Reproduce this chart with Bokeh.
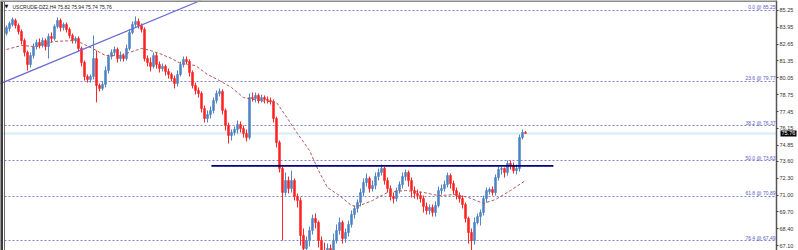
from bokeh.plotting import figure
from bokeh.models import Range1d, FixedTicker, Span, Label, Slope, ColumnDataSource, LinearAxis
from bokeh.embed import file_html
from bokeh.resources import INLINE
from bokeh.core.properties import value

symbol = "USCRUDE-DZ2,H4"

opens = [83.47,83.86,84.17,84.48,84.09,83.63,82.93,82.01,81.08,81.77,
         82.47,82.78,82.55,82.93,82.47,83.24,83.09,84.01,84.48,83.94,
         84.17,83.78,83.32,82.93,83.09,82.32,81.23,80.15,79.92,80.15,
         81.54,79.46,79.23,79.54,80.62,81.70,82.01,82.24,81.54,81.77,
         81.54,82.32,83.55,84.17,84.40,84.09,83.78,81.54,81.23,80.93,
         81.77,81.08,80.77,80.93,80.54,80.31,80.00,79.61,80.31,81.08,
         81.47,81.31,80.46,79.46,79.07,78.84,77.68,76.91,77.22,77.53,
         78.30,78.84,79.00,77.53,76.37,75.60,75.83,76.06,76.45,76.14,
         75.75,75.44,78.53,78.45,78.69,78.30,78.53,78.38,78.30,78.22,
         76.91,75.06,73.05,71.20,72.12,71.50,72.12,70.89,70.58,67.88,
         66.87,67.49,68.26,69.19,68.88,67.49,66.72,66.33,66.87,66.56,
         67.49,68.26,68.88,67.64,68.11,68.73,69.50,69.96,70.42,71.20,
         71.97,72.28,71.50,71.74,72.43,72.74,73.05,72.12,71.50,70.89,
         70.73,71.35,71.81,72.43,72.74,72.12,71.35,71.12,70.96,70.73,
         70.12,69.81,70.04,69.65,70.19,71.35,71.50,71.81,72.51,71.89,
         71.35,70.96,70.73,70.27,69.19,68.11,67.49,68.88,69.34,69.65,
         70.73,71.27,71.43,71.20,72.35,72.97,73.05,72.74,73.44,73.28,
         72.89,73.05,75.44,75.82]
highs = [84.09,84.40,84.71,84.63,84.25,83.78,83.09,82.16,82.01,82.70,
         83.01,83.09,83.16,83.09,83.47,83.55,84.17,84.71,84.63,84.32,
         84.32,83.94,83.47,83.24,83.24,82.47,81.39,80.31,80.31,83.32,
         82.16,79.61,79.77,80.93,81.85,82.24,82.47,82.39,82.08,81.93,
         82.62,83.78,84.40,84.79,84.63,84.25,83.94,81.77,81.62,82.01,
         82.01,81.31,81.16,81.08,80.77,80.46,80.23,80.62,81.31,81.70,
         81.70,81.47,80.62,79.69,79.30,79.00,77.91,77.53,77.84,78.53,
         79.07,79.23,79.15,77.68,76.60,76.06,76.29,76.76,76.68,76.37,
         76.06,78.84,78.92,78.92,78.84,78.76,78.69,78.61,78.53,78.38,
         77.06,75.21,73.20,72.74,72.43,72.89,72.28,71.12,70.81,68.42,
         67.80,68.57,69.50,69.58,69.03,67.80,67.33,67.26,67.18,68.03,
         68.73,69.27,69.03,68.42,69.03,69.81,70.19,70.66,71.50,72.28,
         72.66,72.43,72.12,72.74,73.05,73.36,73.20,72.35,71.74,71.20,
         71.58,72.05,72.74,72.97,72.89,72.35,71.66,71.43,71.27,70.96,
         70.42,70.27,70.27,70.50,71.66,71.81,72.12,72.74,72.66,72.12,
         71.58,71.20,70.96,70.42,69.34,68.42,69.27,69.58,69.88,70.96,
         71.58,71.58,71.66,72.59,73.20,73.20,73.13,73.67,73.67,73.51,
         73.36,75.67,76.06,75.94]
lows = [83.32,83.63,84.01,83.86,83.40,82.62,81.70,80.62,80.85,81.54,
        82.24,82.32,82.39,82.16,81.54,82.78,82.93,83.86,83.63,83.71,
        83.55,83.09,82.70,82.70,82.08,80.93,79.84,79.69,79.69,79.92,
        78.15,79.00,79.07,79.30,80.39,81.47,81.77,81.23,81.31,81.31,
        81.39,82.16,83.40,83.94,83.86,83.55,81.31,80.93,80.54,80.77,
        80.77,80.46,80.54,80.23,80.00,79.77,79.23,79.38,80.15,80.85,
        81.08,80.15,79.23,78.76,78.53,77.37,76.60,76.60,76.91,77.30,
        78.07,78.61,77.22,75.98,74.98,75.21,75.60,75.75,75.83,75.44,
        75.13,75.29,78.22,78.15,78.07,78.15,78.07,78.07,77.99,76.60,
        74.67,72.74,67.49,70.96,71.12,71.20,70.58,70.04,67.10,66.33,
        66.33,67.03,67.95,68.42,66.95,66.10,65.79,65.79,65.94,66.25,
        67.26,67.95,67.26,67.33,67.80,68.49,69.19,69.65,70.12,70.89,
        71.66,71.20,71.27,71.43,72.12,72.51,71.81,71.20,70.58,70.35,
        70.50,71.12,71.50,72.12,71.66,70.81,70.73,70.66,70.42,69.65,
        69.50,69.50,69.34,69.34,70.04,71.04,71.27,71.58,71.50,71.04,
        70.66,70.42,69.96,68.88,67.26,66.72,67.18,68.73,68.65,69.42,
        70.42,71.04,70.96,70.96,72.12,72.59,72.35,72.51,72.97,72.66,
        72.59,72.82,75.29,75.74]
closes = [83.94,84.25,84.55,84.09,83.63,82.93,82.01,81.08,81.77,82.47,
          82.78,82.55,82.93,82.47,83.24,83.09,84.01,84.48,83.94,84.17,
          83.78,83.32,82.93,83.09,82.32,81.23,80.15,79.92,80.15,81.54,
          79.46,79.23,79.54,80.62,81.70,82.01,82.24,81.54,81.77,81.54,
          82.32,83.55,84.17,84.40,84.09,83.78,81.54,81.23,80.93,81.77,
          81.08,80.77,80.93,80.54,80.31,80.00,79.61,80.31,81.08,81.47,
          81.31,80.46,79.46,79.07,78.84,77.68,76.91,77.22,77.53,78.30,
          78.84,79.00,77.53,76.37,75.60,75.83,76.06,76.45,76.14,75.75,
          75.44,78.53,78.45,78.69,78.30,78.53,78.38,78.30,78.22,76.91,
          75.06,73.05,71.20,72.12,71.50,72.12,70.89,70.58,67.88,66.87,
          67.49,68.26,69.19,68.88,67.49,66.72,66.33,66.87,66.56,67.49,
          68.26,68.88,67.64,68.11,68.73,69.50,69.96,70.42,71.20,71.97,
          72.28,71.50,71.74,72.43,72.74,73.05,72.12,71.50,70.89,70.73,
          71.35,71.81,72.43,72.74,72.12,71.35,71.12,70.96,70.73,70.12,
          69.81,70.04,69.65,70.19,71.35,71.50,71.81,72.51,71.89,71.35,
          70.96,70.73,70.27,69.19,68.11,67.49,68.88,69.34,69.65,70.73,
          71.35,71.43,71.20,72.35,72.97,73.05,72.74,73.44,73.28,72.89,
          73.05,75.44,75.83,75.76]

ma_idx = [0,5,10,13,16,23,26,30,33,38,41,45,48,51,55,58,63,67,71,75,79,84,90,
          93,97,101,104,107,111,115,117,122,127,133,139,144,150,154,159,163,168,173]
ma_val = [82.24,82.55,82.45,82.70,82.86,82.93,82.62,82.16,81.77,81.77,82.01,82.32,
          82.16,81.93,81.54,81.16,81.00,80.31,79.84,79.30,78.53,78.30,78.15,77.14,
          75.75,74.44,72.89,71.58,70.96,70.19,70.12,70.58,71.20,71.35,71.20,70.96,
          71.04,70.81,70.35,70.66,71.35,72.12]

fib_pct = ["0.0", "23.6", "38.2", "50.0", "61.8", "76.4"]
fib_price = [85.25, 79.77, 76.37, 73.63, 70.89, 67.49]

tick_vals = [85.25, 83.95, 82.65, 81.35, 80.05, 78.75, 77.45, 76.15,
             74.85, 73.60, 72.30, 71.00, 69.70, 68.40, 67.10]

trend_x = [0, 57]
trend_y = [79.80, 85.28]

level_x = [68.3, 182.3]
level_price = 73.26

last_price = 75.76

# ---------------------------------------------------------------
X0, X1 = -2.0, 256.67
Y0, Y1 = 66.72, 86.02

p = figure(width=798, height=250, output_backend="svg", toolbar_location=None,
           x_range=Range1d(X0, X1), y_range=Range1d(Y0, Y1),
           x_axis_location=None, y_axis_location="right",
           min_border_left=0, min_border_right=22, min_border_top=0,
           min_border_bottom=0)
p.grid.visible = False
p.outline_line_color = None
p.background_fill_color = "white"
p.border_fill_color = "white"

ax = p.yaxis[0]
ax.ticker = FixedTicker(ticks=tick_vals)
ax.major_label_overrides = {v: f"{v:.2f}" for v in tick_vals}
ax.major_label_text_font = "Liberation Sans"
ax.major_label_text_font_size = "5.5px"
ax.major_label_text_color = "#333333"
ax.major_label_standoff = 1
ax.major_tick_out = 2
ax.major_tick_in = 0
ax.minor_tick_out = 0
ax.minor_tick_in = 0
ax.major_tick_line_color = "#444444"
ax.axis_line_color = "#555555"
ax.axis_line_width = 1.5

# current-price marker on the price scale: a thick inward tick = black box
ax2 = LinearAxis(ticker=FixedTicker(ticks=[last_price]),
                 major_label_overrides={last_price: f"{last_price:.2f}"},
                 axis_line_color=None,
                 major_tick_in=16, major_tick_out=0,
                 major_tick_line_width=6, major_tick_line_color="black",
                 minor_tick_in=0, minor_tick_out=0,
                 major_label_standoff=-15,
                 major_label_text_color="white",
                 major_label_text_font="Liberation Sans",
                 major_label_text_font_size="5.5px")
p.add_layout(ax2, "right")

# fib levels
p.hspan(y=fib_price, line_color="#7f7fd0", line_width=1, line_dash="2 2")
p.text(x=[X1] * len(fib_price), y=fib_price,
       text=[f"{a} @ {b:.2f}" for a, b in zip(fib_pct, fib_price)],
       text_align="right", text_baseline="bottom", x_offset=-1, y_offset=0,
       text_font=value("Liberation Sans"), text_font_size="5px",
       text_color="#5a5abf")

# current price line
p.hspan(y=[last_price], line_color="#d6ecf6", line_width=2)

# candles
idx = list(range(len(closes)))
up = [c >= o for o, c in zip(opens, closes)]
cols = ["#4f84c4" if u else "#ff2424" for u in up]
src = ColumnDataSource(dict(x=idx, o=opens, h=highs, l=lows, c=closes,
                            top=[max(o, c) for o, c in zip(opens, closes)],
                            bot=[min(o, c) for o, c in zip(opens, closes)],
                            col=cols))
p.segment(x0="x", y0="l", x1="x", y1="h", color="col", line_width=1, source=src)
p.vbar(x="x", width=0.6, top="top", bottom="bot", fill_color="col",
       line_color="col", line_width=0.7, source=src)

# moving average
p.line(ma_idx, ma_val, line_color="#b05858", line_width=1, line_dash="3 2")

# trend line
grad = (trend_y[1] - trend_y[0]) / (trend_x[1] - trend_x[0])
p.add_layout(Slope(gradient=grad, y_intercept=trend_y[0] - grad * trend_x[0],
                   line_color="#6b6bd6", line_width=1.2))

# horizontal level
p.segment(x0=[level_x[0]], y0=[level_price], x1=[level_x[1]], y1=[level_price],
          line_color="#00007a", line_width=1.8)

# borders
p.add_layout(Span(location=X0, dimension="height", line_color="#3c3c3c", line_width=5))
p.add_layout(Span(location=X0 + 4 / 3, dimension="height", line_color="#6a6a6a", line_width=1))
p.add_layout(Span(location=Y1, dimension="width", line_color="#8a8a8a", line_width=3))

# header
p.add_layout(Label(x=X0 + 4 / 3, y=Y1, y_offset=-8.5, text="▼",
                   text_font="DejaVu Sans", text_font_size="5px",
                   text_color="#111111", text_baseline="bottom"))
p.add_layout(Label(x=X0 + 12 / 3, y=Y1, y_offset=-9,
                   text=f"{symbol}  {opens[-1]:.2f} {highs[-1]:.2f} {lows[-1]:.2f} {closes[-1]:.2f}",
                   text_font="Liberation Sans", text_font_size="5px",
                   text_color="#222222", text_baseline="bottom"))

open("out.html", "w").write(file_html(p, INLINE))
